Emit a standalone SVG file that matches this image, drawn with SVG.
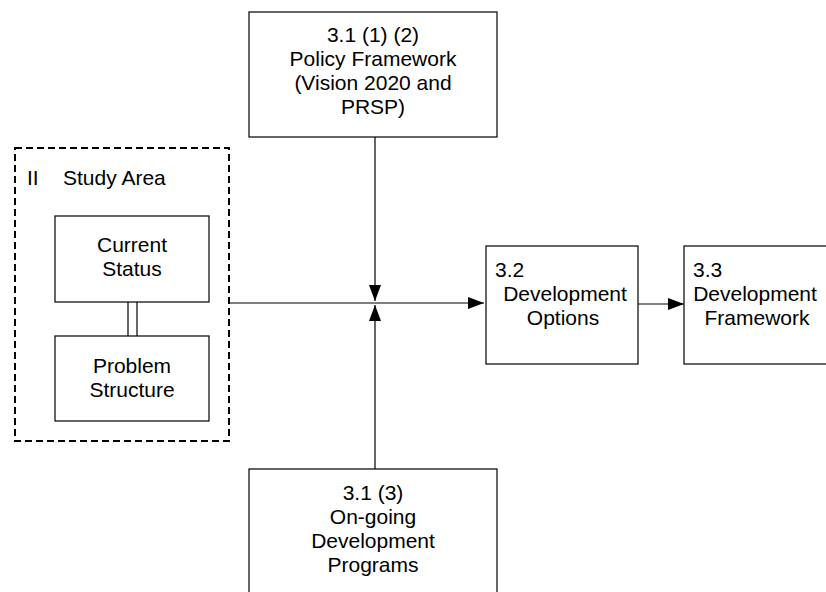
<svg xmlns="http://www.w3.org/2000/svg" width="826" height="592" viewBox="0 0 826 592">
<style>
  .box{fill:#fff;stroke:#000;stroke-width:1.2}
  .t{font-family:"Liberation Sans",Arial,sans-serif;font-size:21px;fill:#000}
  .c{text-anchor:middle}
  .ln{stroke:#000;stroke-width:1.2;fill:none}
</style>
<defs>
  <marker id="ah" markerWidth="16" markerHeight="12" refX="16" refY="6" orient="auto" markerUnits="userSpaceOnUse">
    <path d="M0,0 L16,6 L0,12 Z" fill="#000"/>
  </marker>
</defs>
<rect width="826" height="592" fill="#fff"/>
<g id="study-area">
  <rect x="15" y="148" width="214" height="293" fill="none" stroke="#000" stroke-width="2" stroke-dasharray="7,4"/>
  <text class="t" x="27" y="185">II</text>
  <text class="t" x="63" y="185">Study Area</text>
</g>
<g id="current-status">
  <rect class="box" x="55" y="216" width="154" height="86"/>
  <text class="t c" x="132" y="252">Current</text>
  <text class="t c" x="132" y="276">Status</text>
</g>
<g id="problem-structure">
  <rect class="box" x="55" y="336" width="154" height="85"/>
  <text class="t c" x="132" y="373">Problem</text>
  <text class="t c" x="132" y="397">Structure</text>
</g>
<g id="policy">
  <rect class="box" x="249" y="12" width="248" height="125"/>
  <text class="t c" x="373" y="42">3.1 (1) (2)</text>
  <text class="t c" x="373" y="66">Policy Framework</text>
  <text class="t c" x="373" y="90">(Vision 2020 and</text>
  <text class="t c" x="373" y="114">PRSP)</text>
</g>
<g id="ongoing">
  <rect class="box" x="249" y="469" width="248" height="130"/>
  <text class="t c" x="373" y="500">3.1 (3)</text>
  <text class="t c" x="373" y="524">On-going</text>
  <text class="t c" x="373" y="548">Development</text>
  <text class="t c" x="373" y="572">Programs</text>
</g>
<g id="options">
  <rect class="box" x="486" y="246" width="152" height="118"/>
  <text class="t" x="495" y="277">3.2</text>
  <text class="t c" x="565" y="301">Development</text>
  <text class="t c" x="563" y="325">Options</text>
</g>
<g id="framework">
  <rect class="box" x="684" y="246" width="160" height="118"/>
  <text class="t" x="693" y="277">3.3</text>
  <text class="t c" x="755" y="301">Development</text>
  <text class="t c" x="757" y="325">Framework</text>
</g>
<g id="connectors">
  <line class="ln" x1="128" y1="302" x2="128" y2="336"/>
  <line class="ln" x1="137" y1="302" x2="137" y2="336"/>
  <line class="ln" x1="229" y1="303" x2="484" y2="303" marker-end="url(#ah)"/>
  <line class="ln" x1="375" y1="137" x2="375" y2="301" marker-end="url(#ah)"/>
  <line class="ln" x1="375" y1="469" x2="375" y2="305" marker-end="url(#ah)"/>
  <line class="ln" x1="638" y1="304" x2="684" y2="304" marker-end="url(#ah)"/>
</g>
</svg>
